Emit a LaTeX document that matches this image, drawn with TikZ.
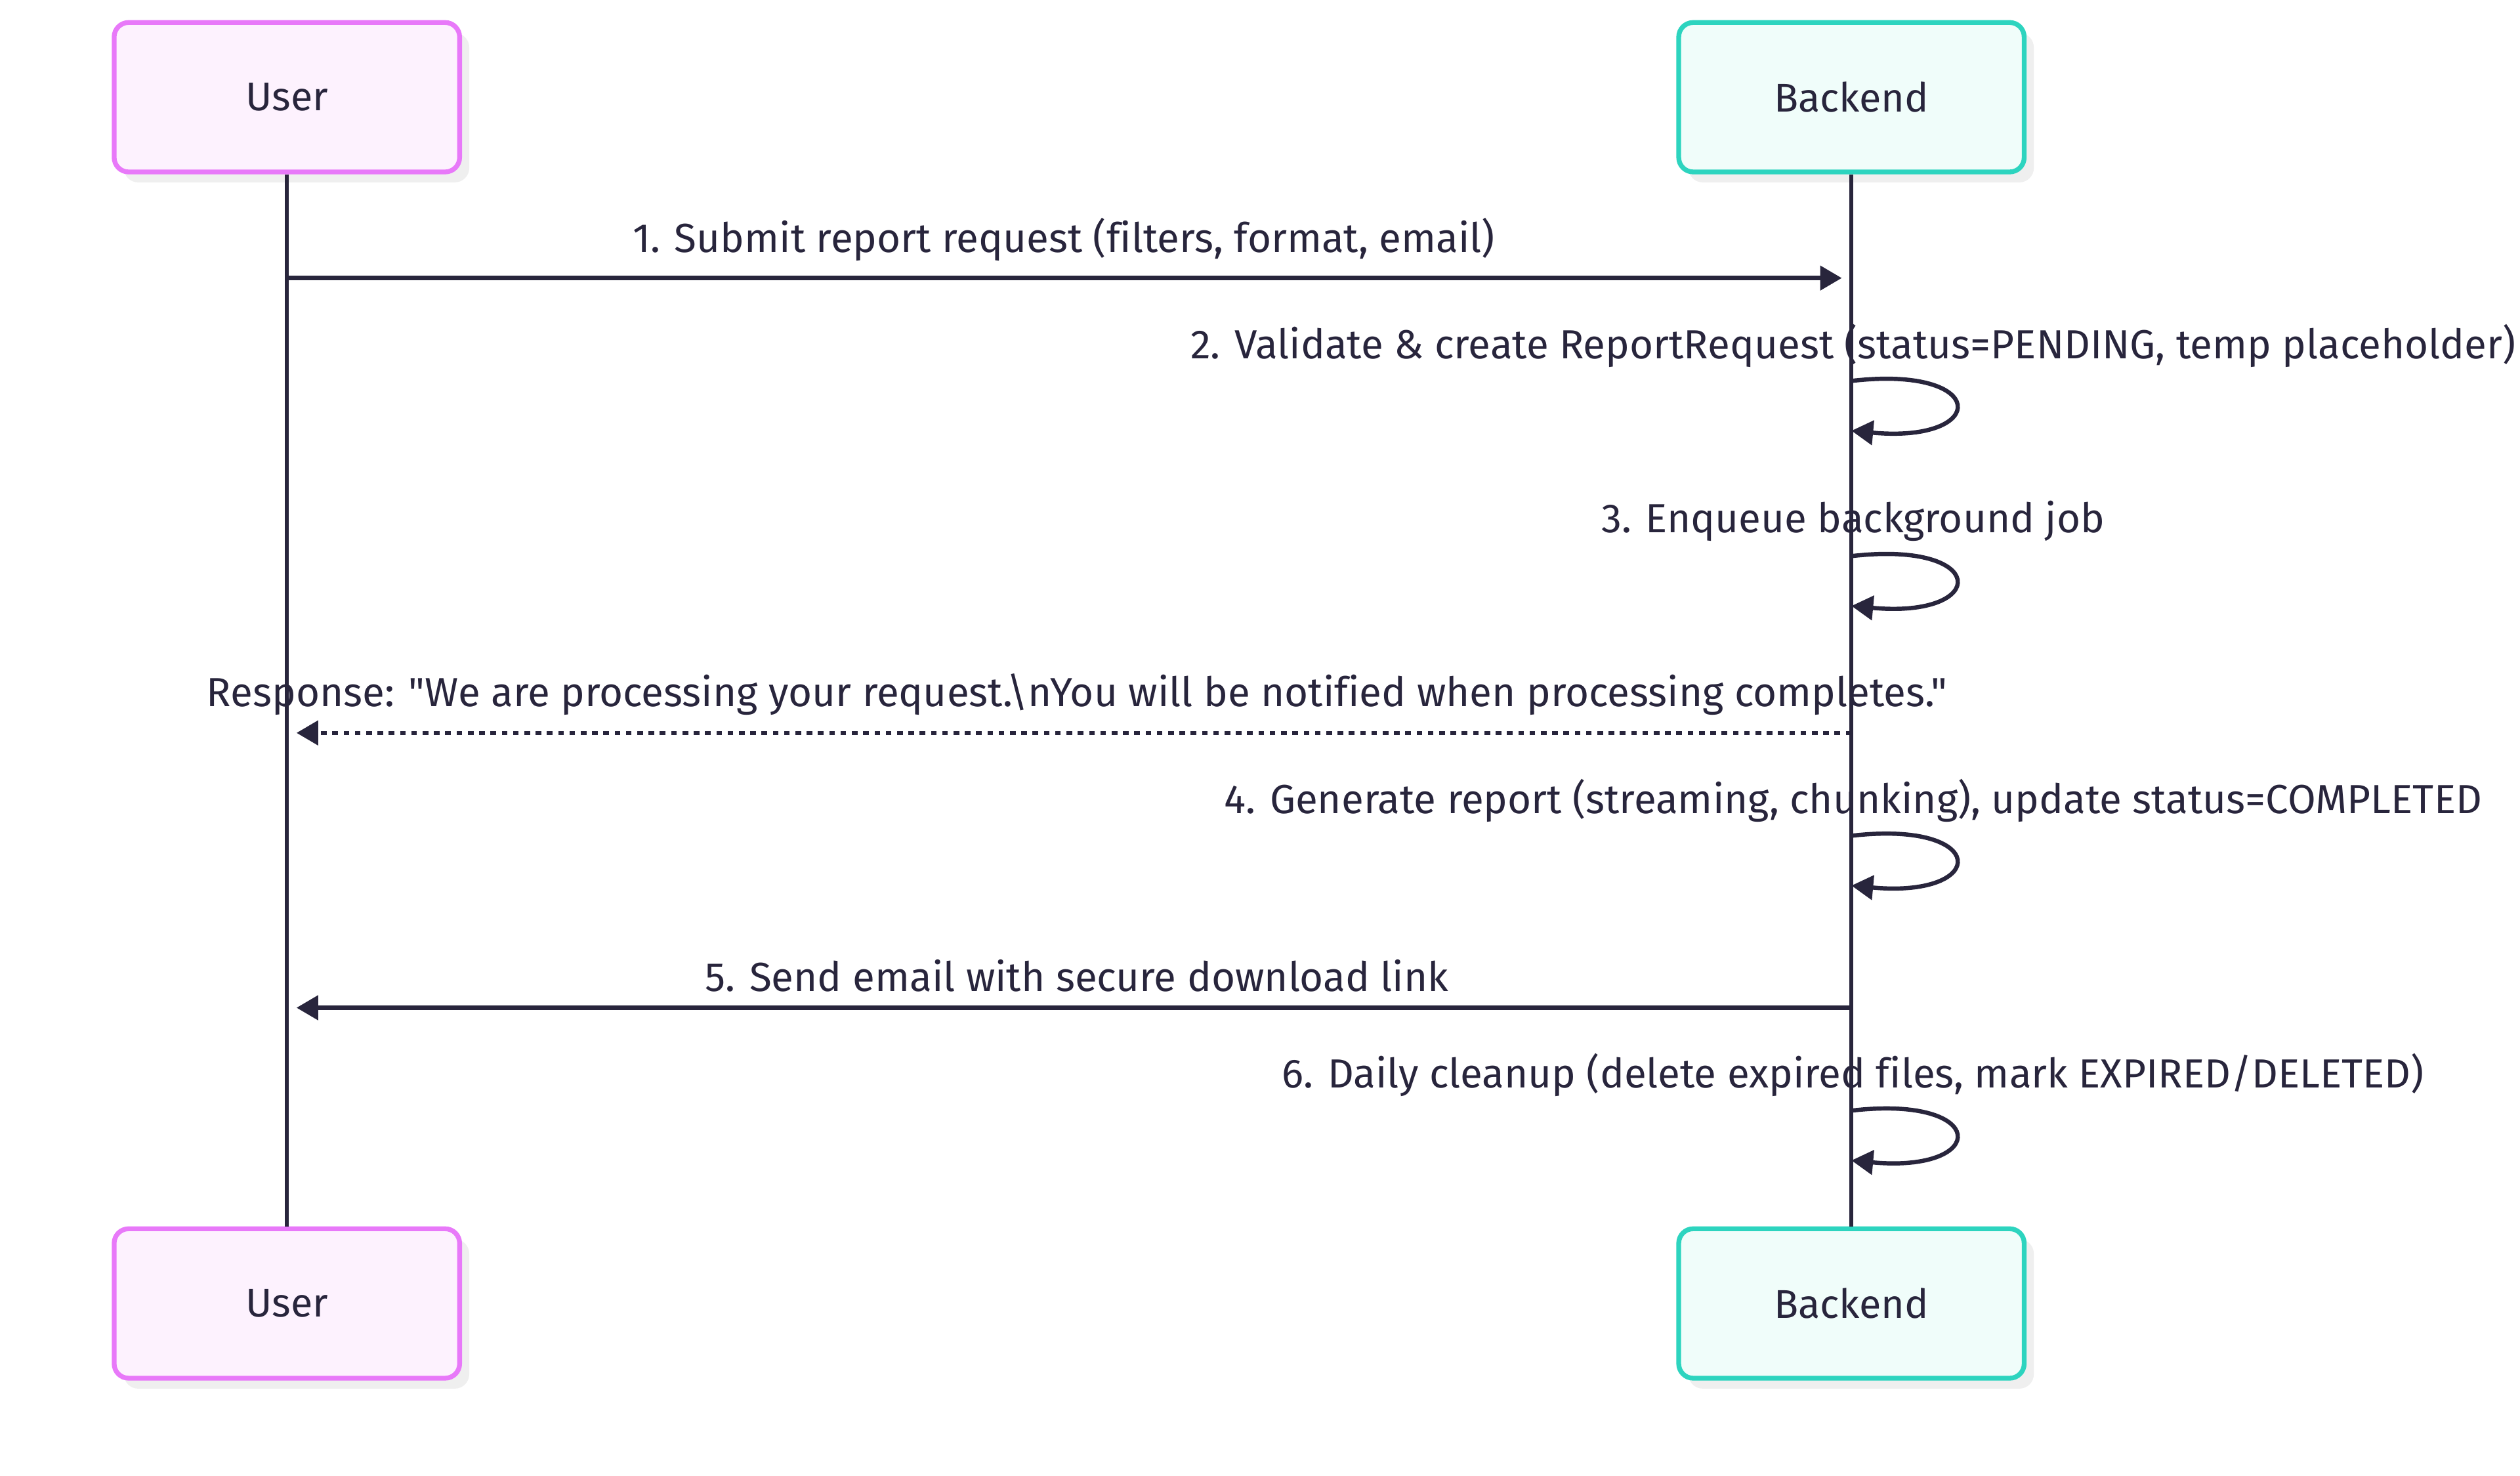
\documentclass[tikz,border=0pt]{standalone}
\usepackage{fontspec}
\setmainfont[Ligatures={NoCommon,TeXOff}]{Fira Sans}
\usetikzlibrary{arrows.meta, positioning, calc, shadows}

\definecolor{ink}{HTML}{28253C}
\definecolor{userline}{HTML}{E879F9}
\definecolor{userfill}{HTML}{FDF2FE}
\definecolor{backline}{HTML}{2DD4BF}
\definecolor{backfill}{HTML}{F0FDFA}
\definecolor{shade}{HTML}{EFEFEF}

\tikzset{
  actor/.style={draw, line width=1.7pt, rounded corners=0.18cm,
    minimum width=4.3cm, minimum height=1.86cm, text=ink,
    font=\fontsize{14.2}{16}\selectfont,
    drop shadow={shadow xshift=0.12cm, shadow yshift=-0.13cm, fill=shade, opacity=1}},
  userbox/.style={actor, draw=userline, fill=userfill},
  backbox/.style={actor, draw=backline, fill=backfill},
  life/.style={draw=ink, line width=1.5pt},
  msg/.style={draw=ink, line width=1.5pt, -{Triangle[length=0.27cm, width=0.3cm]}},
  reply/.style={msg, dash pattern=on 2pt off 2pt},
  lbl/.style={text=ink, inner sep=0pt, font=\fontsize{14.4}{17}\selectfont},
}

\begin{document}
\begin{tikzpicture}[x=0.02cm, y=-0.02cm]
  \useasboundingbox (0,0) rectangle (1568,918);

  % participants
  \node[userbox] (UserTop) at (178.5,60.5) {User};
  \node[backbox] (BackTop) at (1152,60.5) {Backend};
  \node[userbox] (UserBot) at (178.5,811) {User};
  \node[backbox] (BackBot) at (1152,811) {Backend};

  % lifelines
  \draw[life] (UserTop.south) -- (UserBot.north);
  \draw[life] (BackTop.south) -- (BackBot.north);

  % 1. request
  \coordinate (m1u) at (UserTop |- 0,173);
  \coordinate (m1b) at (BackTop |- 0,173);
  \draw[msg, shorten >=0.12cm] (m1u) -- (m1b);
  \node[lbl] (t1) at (662,149) {1. Submit report request (filters, format, email)};

  % 2. validate
  \coordinate (s2a) at (BackTop |- 0,237);
  \coordinate (s2b) at (BackTop |- 0,268);
  \draw[msg] (s2a) .. controls +(86,-10) and +(86,8) .. (s2b);
  \node[lbl] (t2) at (1153,215) {2. Validate \& create ReportRequest (status=PENDING, temp placeholder)};

  % 3. enqueue
  \coordinate (s3a) at (BackTop |- 0,346);
  \coordinate (s3b) at (BackTop |- 0,377);
  \draw[msg] (s3a) .. controls +(86,-10) and +(86,8) .. (s3b);
  \node[lbl] (t3) at (1153,324) {3. Enqueue background job};

  % response
  \coordinate (r1b) at (BackTop |- 0,456);
  \coordinate (r1u) at (UserTop |- 0,456);
  \draw[reply, shorten >=0.12cm] (r1b) -- (r1u);
  \node[lbl] (tr) at (670,432) {Response: "We are processing your request.\textbackslash nYou will be notified when processing completes."};

  % 4. generate
  \coordinate (s4a) at (BackTop |- 0,520);
  \coordinate (s4b) at (BackTop |- 0,551);
  \draw[msg] (s4a) .. controls +(86,-10) and +(86,8) .. (s4b);
  \node[lbl] (t4) at (1153,498) {4. Generate report (streaming, chunking), update status=COMPLETED};

  % 5. email
  \coordinate (m5b) at (BackTop |- 0,627);
  \coordinate (m5u) at (UserTop |- 0,627);
  \draw[msg, shorten >=0.12cm] (m5b) -- (m5u);
  \node[lbl] (t5) at (670,607) {5. Send email with secure download link};

  % 6. cleanup
  \coordinate (s6a) at (BackTop |- 0,691);
  \coordinate (s6b) at (BackTop |- 0,722);
  \draw[msg] (s6a) .. controls +(86,-10) and +(86,8) .. (s6b);
  \node[lbl] (t6) at (1153,669) {6. Daily cleanup (delete expired files, mark EXPIRED/DELETED)};
\end{tikzpicture}
\end{document}
